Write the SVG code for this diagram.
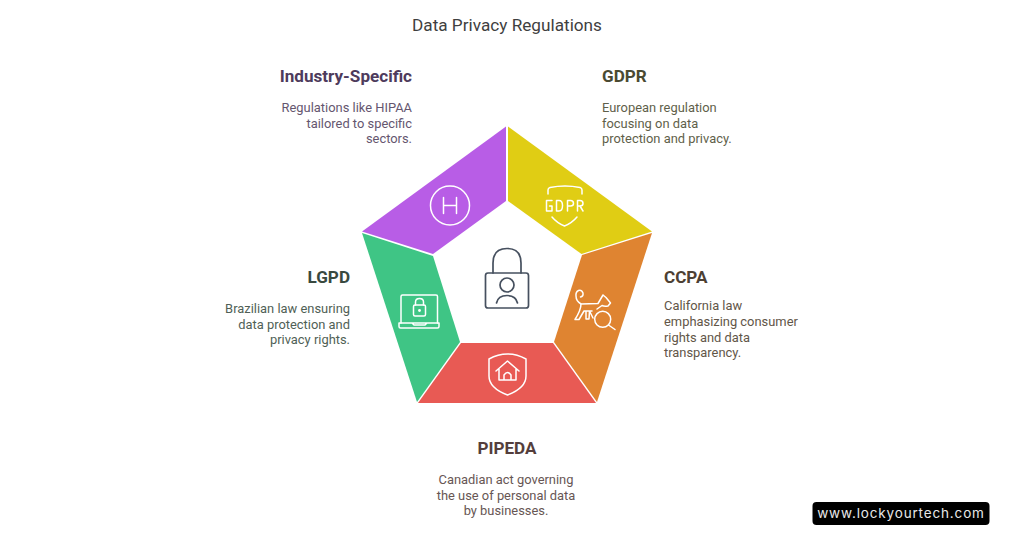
<svg xmlns="http://www.w3.org/2000/svg" width="1024" height="536" viewBox="0 0 1024 536">
<style>
text{font-family:Roboto,"Liberation Sans",sans-serif}
.t{font-size:17.1px;font-weight:700}
.b{font-size:12.9px}
.e{text-anchor:end}
.m{text-anchor:middle}
.i{fill:none;stroke:#fff;stroke-width:1.5;stroke-linecap:round;stroke-linejoin:round}
.d{fill:none;stroke:#46505f;stroke-width:1.7;stroke-linecap:round;stroke-linejoin:round}
</style>
<rect width="1024" height="536" fill="#fff"/>
<text x="507" y="30.500" class="m" font-size="17.200" fill="#3f3f3f">Data Privacy Regulations</text>
<g id="node-industry">
<polygon points="506,126.500 506,201 433,254 362,231.500" fill="#b85de6"/>
<circle class="i" cx="450" cy="205.500" r="19.500"/>
<path class="i" d="M443.500 197.500V213.500M456.500 197.500V213.500M443.500 205.500H456.500"/>
<text x="412" y="82" class="t e" fill="#4e3b5c">Industry-Specific</text>
<text class="b e" fill="#65566f"><tspan x="412" y="112">Regulations like HIPAA</tspan><tspan x="412" y="127.500">tailored to specific</tspan><tspan x="412" y="143">sectors.</tspan></text>
</g>
<g id="node-gdpr">
<polygon points="508,126.500 508,201 581.500,254 652,231.500" fill="#e0cd14"/>
<path class="i" d="M548 194V190Q548 188 550 187.500Q565 184.500 580 187.500Q582 188 582 190V194M552 217Q557 223 564.500 226Q572 223 577 217"/>
<path class="i" d="M552 200.500H546.500V211H552V206H549.500M556.500 200.500V211H559Q562.500 211 562.500 205.500Q562.500 200.500 559 200.500ZM567.500 211V200.500H570.500Q573.500 200.500 573.500 203.500Q573.500 206 570.500 206H567.500M577.500 211V200.500H580Q583 200.500 583 203.500Q583 206 580 206H577.500M580 206L583 211"/>
<text x="602" y="82" class="t" fill="#4a4a32">GDPR</text>
<text class="b" fill="#5f5f4a"><tspan x="602" y="112">European regulation</tspan><tspan x="602" y="127.500">focusing on data</tspan><tspan x="602" y="143">protection and privacy.</tspan></text>
</g>
<g id="node-ccpa">
<polygon points="652,233 582,255 554,342 597,402" fill="#df8431"/>
<path class="i" d="M580.500 297Q583.500 296.500 583 293Q581.500 289.500 578.500 290.500Q575.500 292 576 296Q576 301 581 304L598 303.500L603 295L606 297.500L610.500 303L608 306Q604 306.500 602 305.500L597 309"/>
<path class="i" d="M581 304Q581 310 575 319.500H579L584 311H592M586 311V319H589L589.500 311L593 318"/>
<circle class="i" cx="602.700" cy="319.300" r="8"/>
<path class="i" d="M608.500 325L615 329.500"/>
<text x="664" y="283" class="t" fill="#4d4033">CCPA</text>
<text class="b" fill="#625648"><tspan x="664" y="310">California law</tspan><tspan x="664" y="326">emphasizing consumer</tspan><tspan x="664" y="341.500">rights and data</tspan><tspan x="664" y="357">transparency.</tspan></text>
</g>
<g id="node-pipeda">
<polygon points="461,343 553,343 596,403 418,403" fill="#e85a54"/>
<path class="i" d="M489 359Q498 354 507.500 354Q517 354 526 359V376Q526 388 507.500 395Q489 388 489 376Z"/>
<path class="i" d="M496 371L507.500 361L519 371M499 369V380H516V369M504 380V375Q507.500 370 511 375V380"/>
<text x="507" y="454" class="t m" fill="#543e3c">PIPEDA</text>
<text class="b m" fill="#675654"><tspan x="506" y="484">Canadian act governing</tspan><tspan x="506" y="499.500">the use of personal data</tspan><tspan x="506" y="515">by businesses.</tspan></text>
</g>
<g id="node-lgpd">
<polygon points="362,233 433,256 460,342 417,402" fill="#3fc585"/>
<path class="i" d="M401 323V296.500Q401 295 402.500 295H436Q437.500 295 437.500 296.500V323"/>
<path class="i" d="M399 323H439V326.500Q439 328 437.500 328H400.500Q399 328 399 326.500ZM412 323L414 325H425L427 323"/>
<rect class="i" x="413.500" y="305" width="12" height="11" rx="1.500"/>
<path class="i" d="M415.500 305V302Q415.500 298.500 419.500 298.500Q423.500 298.500 423.500 302V305"/>
<circle cx="419.500" cy="310.500" r="1.400" fill="#fff"/>
<text x="350" y="283" class="t e" fill="#39493f">LGPD</text>
<text class="b e" fill="#505f56"><tspan x="350" y="313">Brazilian law ensuring</tspan><tspan x="350" y="328.500">data protection and</tspan><tspan x="350" y="344">privacy rights.</tspan></text>
</g>
<g id="node-center">
<rect class="d" x="485.500" y="273" width="43" height="35" rx="2.500"/>
<path class="d" d="M493 273V263Q493 248.500 507 248.500Q521 248.500 521 263V273"/>
<circle class="d" cx="507" cy="285" r="7"/>
<path class="d" d="M496.500 303Q498 295.500 507 295.500Q516 295.500 517.500 303"/>
</g>
<g id="connectors"></g>
<g id="badge">
<rect x="812.500" y="502" width="177" height="23" rx="4" fill="#000"/>
<text x="901" y="518" class="m" font-size="13.500" letter-spacing="0.850" fill="#e8e8e8" style="font-family:Inter,Roboto,sans-serif">www.lockyourtech.com</text>
</g>
</svg>
